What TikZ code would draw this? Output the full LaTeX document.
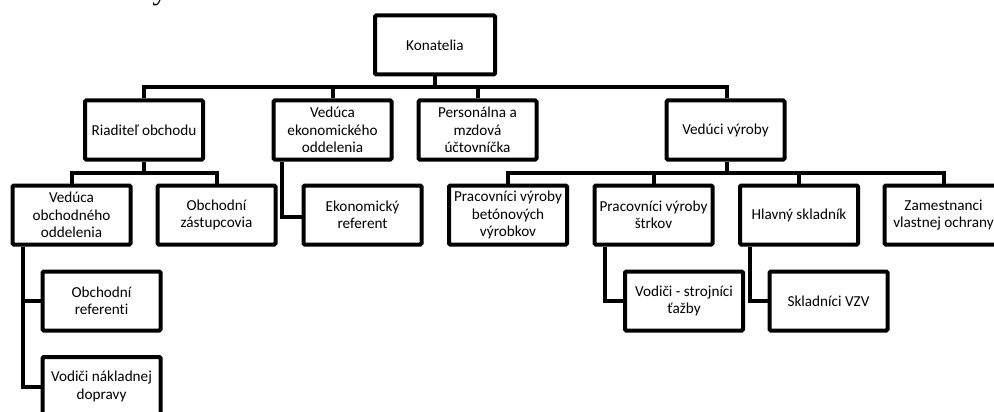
\documentclass[tikz,border=0pt]{standalone}
\usepackage{fontspec}
\setmainfont{Carlito}[Ligatures={NoCommon}]
\newfontfamily\seriffont{Liberation Serif}
\begin{document}
\begin{tikzpicture}[x=1pt,y=-1pt,
  box/.style={draw=black,line width=4pt,rounded corners=1.2pt,fill=white,
    minimum width=118pt,minimum height=59pt,inner sep=0pt,align=center,
    font=\fontsize{15.2}{17.5}\selectfont},
  conn/.style={draw=black,line width=4pt,line join=miter}]
\useasboundingbox (0,0) rectangle (994,412);
\clip (0,0) rectangle (994,412);
\fill[white] (0,0) rectangle (994,412);
% fragment of text above the crop
\node[anchor=base,inner sep=0pt,font=\seriffont\fontsize{30}{30}\selectfont] (frag) at (160,0) {y};
\coordinate (b1) at (435,87);
\coordinate (b2) at (144,173);
\coordinate (b3) at (727,173);
% boxes
\node[box,minimum width=120pt] (kon) at (435,45) {Konatelia};
\node[box] (riad) at (144,130) {Riaditeľ obchodu};
\node[box] (vedek) at (332.5,130) {Vedúca\\ekonomického\\oddelenia};
\node[box] (pers) at (477.5,130) {Personálna a\\mzdová\\účtovníčka};
\node[box] (vedvyr) at (725.5,130) {Vedúci výroby};
\node[box] (vedobch) at (71.5,215) {Vedúca\\obchodného\\oddelenia};
\node[box] (obchzast) at (216.5,215) {Obchodní\\zástupcovia};
\node[box] (ekref) at (362.5,215) {Ekonomický\\referent};
\node[box] (pracbet) at (508,215) {Pracovníci výroby\\betónových\\výrobkov};
\node[box] (pracstr) at (653.5,215) {Pracovníci výroby\\štrkov};
\node[box] (hlav) at (799,215) {Hlavný skladník};
\node[box] (zam) at (943.5,215) {Zamestnanci\\vlastnej ochrany};
\node[box] (obchref) at (101.5,301) {Obchodní\\referenti};
\node[box] (vodici) at (101.5,386.5) {Vodiči nákladnej\\dopravy};
\node[box] (vodstr) at (684,301) {Vodiči - strojníci\\ťažby};
\node[box] (sklad) at (828.5,301) {Skladníci VZV};
% top level
\draw[conn] (kon.south) -- (b1);
\draw[conn] (b1) -| (riad.north);
\draw[conn] (b1) -| (vedek.north);
\draw[conn] (b1) -| (pers.north);
\draw[conn] (b1) -| ([xshift=1.5pt]vedvyr.north);
% Riaditel
\draw[conn] (riad.south) -- (b2);
\draw[conn] (b2) -| (vedobch.north);
\draw[conn] (b2) -| (obchzast.north);
% Veduca ekonomickeho
\draw[conn] ([xshift=10pt]vedek.south west) |- ([yshift=-2pt]ekref.west);
% Veduci vyroby
\draw[conn] ([xshift=1.5pt]vedvyr.south) -- (b3);
\draw[conn] (b3) -| (pracbet.north);
\draw[conn] (b3) -| (pracstr.north);
\draw[conn] (b3) -| (hlav.north);
\draw[conn] (b3) -| (zam.north);
% Veduca obchodneho
\draw[conn] ([xshift=12pt]vedobch.south west) |- (obchref.west);
\draw[conn] ([xshift=12pt]vedobch.south west) |- (vodici.west);
% Pracovnici strkov, Hlavny skladnik
\draw[conn] ([xshift=12pt]pracstr.south west) |- (vodstr.west);
\draw[conn] ([xshift=12pt]hlav.south west) |- (sklad.west);
\end{tikzpicture}
\end{document}
